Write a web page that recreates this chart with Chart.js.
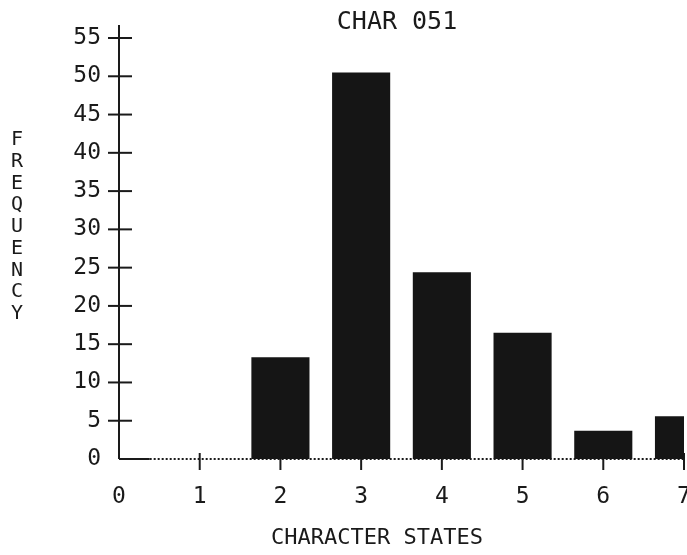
<!DOCTYPE html>
<html>
<head>
<meta charset="utf-8">
<script src="https://cdn.jsdelivr.net/npm/chart.js@4/dist/chart.umd.min.js"></script>
<style>
  html, body { margin: 0; padding: 0; background: #fff; }
  #wrap { width: 687px; height: 555px; }
</style>
</head>
<body>
<div id="wrap"><canvas id="charChart" width="687" height="555"></canvas></div>
<script>
/* =========================
   DATA
========================== */
const chartTitle = "CHAR 051";
const xAxisTitle = "CHARACTER STATES";
const yAxisTitle = "FREQUENCY";

const characterStates = [2, 3, 4, 5, 6, 7];
const frequencies = [13.3, 50.5, 24.4, 16.5, 3.7, 5.6];

const xTickValues = [0, 1, 2, 3, 4, 5, 6, 7];
const yTickValues = [0, 5, 10, 15, 20, 25, 30, 35, 40, 45, 50, 55];

document.addEventListener("DOMContentLoaded", () => {
    const FONT = "'DejaVu Sans Mono', 'Liberation Mono', monospace";
    const INK = "#1a1a1a";

    /* =========================
       PLOTTER AXES (crossing ticks, dotted baseline)
    ========================== */
    const plotterAxes = {
        id: "plotterAxes",
        beforeDatasetsDraw(chart) {
            const { ctx, chartArea, scales } = chart;
            const x = scales.x, y = scales.y;
            const base = y.getPixelForValue(0);
            const left = chartArea.left;

            ctx.save();
            ctx.strokeStyle = INK;
            ctx.lineWidth = 2;

            // y axis
            ctx.beginPath();
            ctx.moveTo(left, chartArea.top);
            ctx.lineTo(left, base);
            ctx.stroke();

            // y ticks crossing the axis
            yTickValues.forEach(v => {
                if (v === 0) return;
                const py = y.getPixelForValue(v);
                ctx.beginPath();
                ctx.moveTo(left - 11, py);
                ctx.lineTo(left + 13, py);
                ctx.stroke();
            });

            // solid start of baseline
            ctx.beginPath();
            ctx.moveTo(left, base);
            ctx.lineTo(x.getPixelForValue(0.38), base);
            ctx.stroke();

            // dotted baseline
            ctx.setLineDash([2, 2]);
            ctx.beginPath();
            ctx.moveTo(x.getPixelForValue(0.38), base);
            ctx.lineTo(chartArea.right, base);
            ctx.stroke();
            ctx.setLineDash([]);

            // x ticks
            xTickValues.forEach(v => {
                if (v === 0) return;
                const px = x.getPixelForValue(v);
                ctx.beginPath();
                ctx.moveTo(px, base - 6);
                ctx.lineTo(px, base + 11);
                ctx.stroke();
            });
            ctx.restore();
        },
        afterDraw(chart) {
            const { ctx } = chart;
            ctx.save();
            ctx.fillStyle = INK;
            ctx.textAlign = "center";
            ctx.textBaseline = "middle";

            ctx.font = "25px " + FONT;
            ctx.fillText(chartTitle, 397, 22);

            ctx.font = "22px " + FONT;
            ctx.fillText(xAxisTitle, 377, 538);

            // stacked vertical y title
            ctx.font = "20px " + FONT;
            yAxisTitle.split("").forEach((ch, i) => {
                ctx.fillText(ch, 17, 140 + i * 21.75);
            });
            ctx.restore();
        }
    };

    /* =========================
       CHART
    ========================== */
    const ctx = document.getElementById("charChart").getContext("2d");

    new Chart(ctx, {
        type: "bar",
        data: {
            datasets: [{
                label: "Frequency",
                data: characterStates.map((s, i) => ({ x: s, y: frequencies[i] })),
                backgroundColor: "#151515",
                borderWidth: 0,
                barPercentage: 0.9,
                categoryPercentage: 0.8
            }]
        },
        options: {
            responsive: false,
            animation: false,
            layout: { padding: { top: 25, right: 3, left: 0, bottom: 0 } },
            plugins: {
                legend: { display: false },
                tooltip: { enabled: false },
                title: { display: false }
            },
            scales: {
                x: {
                    type: "linear",
                    min: 0,
                    max: 7,
                    offset: false,
                    grid: { display: false, offset: false },
                    border: { display: false },
                    afterBuildTicks: scale => {
                        scale.ticks = xTickValues.map(v => ({ value: v }));
                    },
                    afterFit: scale => {
                        scale.height = 96;
                        scale.paddingLeft = 0;
                        scale.paddingRight = 0;
                    },
                    ticks: {
                        color: INK,
                        font: { family: FONT, size: 23 },
                        padding: 16,
                        maxRotation: 0,
                        autoSkip: false
                    }
                },
                y: {
                    min: 0,
                    max: 56.7,
                    grid: { display: false },
                    border: { display: false },
                    afterBuildTicks: scale => {
                        scale.ticks = yTickValues.map(v => ({ value: v }));
                    },
                    afterFit: scale => {
                        scale.width = 119;
                        scale.paddingTop = 0;
                        scale.paddingBottom = 0;
                    },
                    ticks: {
                        color: INK,
                        font: { family: FONT, size: 23 },
                        padding: 10,
                        autoSkip: false
                    }
                }
            }
        },
        plugins: [plotterAxes]
    });
});
</script>
</body>
</html>
